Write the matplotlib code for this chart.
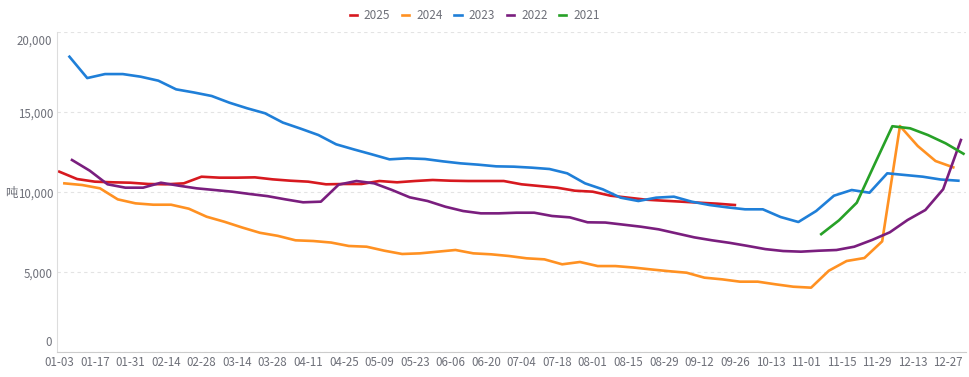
import matplotlib.pyplot as plt
import numpy as np
import pandas as pd

plt.rcParams['font.family'] = ['Noto Sans CJK SC', 'DejaVu Sans']

# x tick labels as shown on the chart (one every two weeks)
tick_labels = ["01-03", "01-17", "01-31", "02-14", "02-28", "03-14", "03-28",
               "04-11", "04-25", "05-09", "05-23", "06-06", "06-20", "07-04",
               "07-18", "08-01", "08-15", "08-29", "09-12", "09-26", "10-13",
               "11-01", "11-15", "11-29", "12-13", "12-27"]

years = ["2025", "2024", "2023", "2022", "2021"]
colours = ["#d7191f", "#ff9122", "#1f7fd8", "#7a1e7e", "#27a127"]

# first weekly date of each year (month-day), weekly data after that
starts = ["01-03", "01-05", "01-07", "01-08", "10-30"]

v2025 = [11290, 10830, 10665, 10625, 10600, 10520, 10500, 10560, 10975, 10915,
         10915, 10935, 10810, 10725, 10665, 10500, 10520, 10520, 10706, 10625,
         10706, 10770, 10725, 10706, 10706, 10706, 10500, 10394, 10290, 10100,
         10040, 9790, 9665, 9540, 9475, 9415, 9350, 9290, 9206]

v2024 = [10560, 10456, 10250, 9560, 9310, 9225, 9225, 8975, 8475, 8160,
         7800, 7470, 7280, 7000, 6956, 6860, 6645, 6600, 6350, 6145,
         6185, 6290, 6395, 6185, 6125, 6020, 5875, 5810, 5500, 5645,
         5390, 5390, 5300, 5180, 5070, 4975, 4665, 4560, 4415, 4415,
         4250, 4100, 4040, 5100, 5706, 5894, 6935, 14144, 12894, 11956, 11560]

v2023 = [18475, 17140, 17390, 17390, 17227, 16977, 16435, 16240, 16020, 15600,
         15250, 14940, 14360, 13980, 13581, 13000, 12680, 12375, 12060, 12125,
         12081, 11935, 11810, 11727, 11623, 11602, 11540, 11456, 11185, 10560,
         10185, 9665, 9456, 9665, 9727, 9415, 9206, 9060, 8937, 8937,
         8456, 8144, 8831, 9787, 10144, 9975, 11187, 11081, 10975, 10800, 10725]

v2022 = [12020, 11350, 10500, 10290, 10290, 10600, 10415, 10250, 10145, 10040,
         9894, 9760, 9560, 9375, 9415, 10480, 10706, 10560, 10145, 9685,
         9456, 9100, 8830, 8685, 8685, 8725, 8725, 8520, 8435, 8125,
         8110, 7980, 7850, 7685, 7435, 7185, 7000, 6840, 6650, 6450,
         6330, 6290, 6350, 6394, 6600, 7020, 7500, 8270, 8894, 10190, 13270]

v2021 = [7385, 8250, 9350, 11750, 14130, 14000, 13580, 13060, 12410]

values = [v2025, v2024, v2023, v2022, v2021]

y_ticks = [0, 5000, 10000, 15000, 20000]

base = pd.Timestamp("2001-01-03")  # common non-leap year, x = days since 01-03

fig = plt.figure(figsize=(9.69, 3.77), dpi=100)
ax = fig.add_axes([0.0591, 0.0655, 0.9378, 0.8488])

for year, start, vals, col in zip(years, starts, values, colours):
    dates = pd.date_range("2001-" + start, periods=len(vals), freq="7D")
    x = (dates - base).days
    ax.plot(x, vals, color=col, lw=1.9, label=year, solid_joinstyle="round")

ax.set_xlim(-0.8, 357)
ax.set_ylim(0, 20000)

ax.set_xticks(np.arange(len(tick_labels)) * 14)
ax.set_xticklabels(tick_labels)

# inner y labels sit on their grid lines, the end ones are pushed inwards
ax.set_yticks(y_ticks)
ax.set_yticklabels([""] + [f"{v:,}" for v in y_ticks[1:-1]] + [""])
lab_col = "#6e7079"
for v, dy in [(y_ticks[0], 10), (y_ticks[-1], -9)]:
    ax.annotate(f"{v:,}", xy=(0, v), xycoords=("axes fraction", "data"),
                xytext=(-4, dy * 0.72), textcoords="offset points",
                ha="right", va="center", fontsize=8.3, color=lab_col)

ax.tick_params(axis="both", length=0, labelsize=8.3, labelcolor=lab_col)
ax.tick_params(axis="x", pad=2.5)
ax.tick_params(axis="y", pad=3)

ax.grid(axis="y", color="#e3e3e3", lw=0.8, ls=(0, (3, 3)))
ax.set_axisbelow(True)
for s in ["top", "right"]:
    ax.spines[s].set_visible(False)
ax.spines["left"].set_color("#dddddd")
ax.spines["bottom"].set_color("#cccccc")

fig.text(11 / 969, 1 - 193 / 377, "吨", fontsize=9, color=lab_col,
         ha="center", va="center")

fig.legend(loc="center", bbox_to_anchor=(0.49, 1 - 15.5 / 377), ncol=5,
           frameon=False, fontsize=8.5, handlelength=0.6, handletextpad=0.6,
           columnspacing=1.0, labelcolor=lab_col)

fig.savefig("out.png", dpi=100)
